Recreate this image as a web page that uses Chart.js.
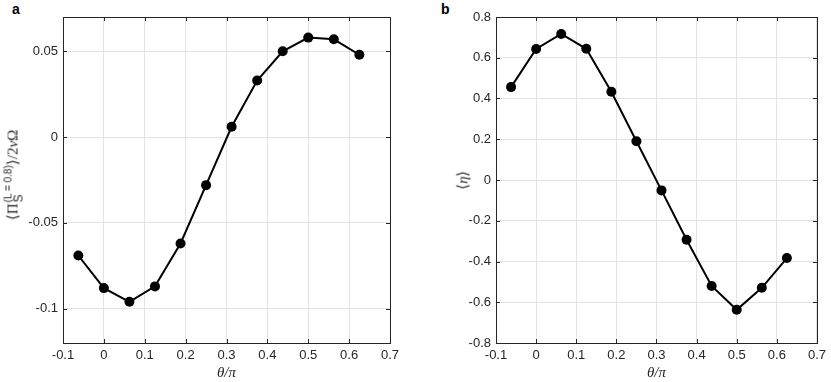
<!DOCTYPE html>
<html>
<head>
<meta charset="utf-8">
<script src="https://cdn.jsdelivr.net/npm/chart.js@4"></script>
<style>
  body { margin:0; background:#fff; width:831px; height:382px; position:relative; overflow:hidden; font-family:"Liberation Sans", Arial, sans-serif; }
  canvas { position:absolute; top:0; }
  #ca { left:0; }
  #cb { left:415px; }
  .tag { position:absolute; font-weight:bold; font-size:14px; color:#000; line-height:1; }
  .ylab { position:absolute; transform:translate(-50%,-50%) rotate(-90deg); white-space:nowrap; color:#262626; line-height:1; }
  .serif { font-family:"Liberation Serif", "Times New Roman", serif; }
  .stack { display:inline-flex; flex-direction:column; vertical-align:middle; font-family:"Liberation Sans", Arial, sans-serif; line-height:1; margin-left:1px; }
  .stack .sp { font-size:10px; }
  .stack .sb { font-size:12px; margin-top:-1px; }
</style>
</head>
<body>
<div class="tag" style="left:12px;top:2px">a</div>
<div class="tag" style="left:441px;top:2px">b</div>
<canvas id="ca" width="415" height="382"></canvas>
<canvas id="cb" width="416" height="382"></canvas>
<div class="ylab serif" style="left:14px;top:175px;font-size:15px">⟨Π<span class="stack"><span class="sp">(L = 0.8)</span><span class="sb">S</span></span>⟩/2<i>ν</i>Ω</div>
<div class="ylab serif" style="left:463px;top:180px;font-size:15px">⟨<i>η</i>⟩</div>
<script>
// theta/pi positions
const thetas = [-0.0625, 0, 0.0625, 0.125, 0.1875, 0.25, 0.3125, 0.375, 0.4375, 0.5, 0.5625, 0.625];
// panel a: <Pi_S> / 2 nu Omega
const piS = [-0.069, -0.088, -0.096, -0.087, -0.062, -0.028, 0.006, 0.033, 0.050, 0.058, 0.057, 0.048];
// panel b: <eta>
const eta = [0.456, 0.643, 0.717, 0.644, 0.433, 0.190, -0.051, -0.293, -0.520, -0.637, -0.529, -0.383];

const xTicks = [-0.1, 0, 0.1, 0.2, 0.3, 0.4, 0.5, 0.6, 0.7];
const xTickLabels = ['-0.1', '0', '0.1', '0.2', '0.3', '0.4', '0.5', '0.6', '0.7'];
const yTicksA = [-0.1, -0.05, 0, 0.05];
const yTickLabelsA = ['-0.1', '-0.05', '0', '0.05'];
const yTicksB = [-0.8, -0.6, -0.4, -0.2, 0, 0.2, 0.4, 0.6, 0.8];
const yTickLabelsB = ['-0.8', '-0.6', '-0.4', '-0.2', '0', '0.2', '0.4', '0.6', '0.8'];

const axisCol = '#262626';
const gridCol = '#e3e3e3';
const tickFont = { family: 'Liberation Sans', size: 13 };

// matlab style box with inward ticks
const frame = {
  id: 'frame',
  afterDraw(chart) {
    const ctx = chart.ctx, a = chart.chartArea;
    const xs = chart.scales.x, ys = chart.scales.y;
    ctx.save();
    ctx.strokeStyle = axisCol;
    ctx.lineWidth = 1;
    ctx.strokeRect(Math.round(a.left) + 0.5, Math.round(a.top) + 0.5, Math.round(a.right - a.left), Math.round(a.bottom - a.top));
    ctx.beginPath();
    xs.ticks.forEach(t => {
      const px = Math.round(xs.getPixelForValue(t.value)) + 0.5;
      ctx.moveTo(px, a.bottom); ctx.lineTo(px, a.bottom - 4);
      ctx.moveTo(px, a.top); ctx.lineTo(px, a.top + 4);
    });
    ys.ticks.forEach(t => {
      const py = Math.round(ys.getPixelForValue(t.value)) + 0.5;
      ctx.moveTo(a.left, py); ctx.lineTo(a.left + 4, py);
      ctx.moveTo(a.right, py); ctx.lineTo(a.right - 4, py);
    });
    ctx.stroke();
    ctx.restore();
  }
};

function makeChart(id, vals, yMin, yMax, yTicks, yLabels, yWidth, padRight) {
  new Chart(document.getElementById(id), {
    type: 'line',
    data: {
      datasets: [{
        data: thetas.map((t, i) => ({ x: t, y: vals[i] })),
        borderColor: '#000',
        backgroundColor: '#000',
        borderWidth: 2,
        pointRadius: 5,
        pointBackgroundColor: '#000',
        pointBorderWidth: 0,
        tension: 0
      }]
    },
    options: {
      responsive: false,
      animation: false,
      layout: { padding: { top: 17, right: padRight, left: 0, bottom: 0 } },
      plugins: { legend: { display: false }, tooltip: { enabled: false } },
      scales: {
        x: {
          type: 'linear', min: -0.1, max: 0.7,
          afterBuildTicks: s => { s.ticks = xTicks.map(v => ({ value: v })); },
          afterFit: s => { s.height = 39; },
          grid: { color: gridCol, drawTicks: false },
          border: { display: false },
          ticks: { padding: 5, color: axisCol, font: tickFont, maxRotation: 0, autoSkip: false,
                   callback: (v, i) => xTickLabels[i] },
          title: { display: true, text: 'θ/π', color: axisCol, padding: 0,
                   font: { family: 'Liberation Serif', style: 'italic', size: 15 } }
        },
        y: {
          type: 'linear', min: yMin, max: yMax,
          afterBuildTicks: s => { s.ticks = yTicks.map(v => ({ value: v })); },
          afterFit: s => { s.width = yWidth; },
          grid: { color: gridCol, drawTicks: false },
          border: { display: false },
          ticks: { padding: 5, color: axisCol, font: tickFont, autoSkip: false,
                   callback: (v, i) => yLabels[i] }
        }
      }
    },
    plugins: [frame]
  });
}

makeChart('ca', piS, -0.12, 0.07, yTicksA, yTickLabelsA, 63, 25);
makeChart('cb', eta, -0.8, 0.8, yTicksB, yTickLabelsB, 81, 9);
</script>
</body>
</html>
